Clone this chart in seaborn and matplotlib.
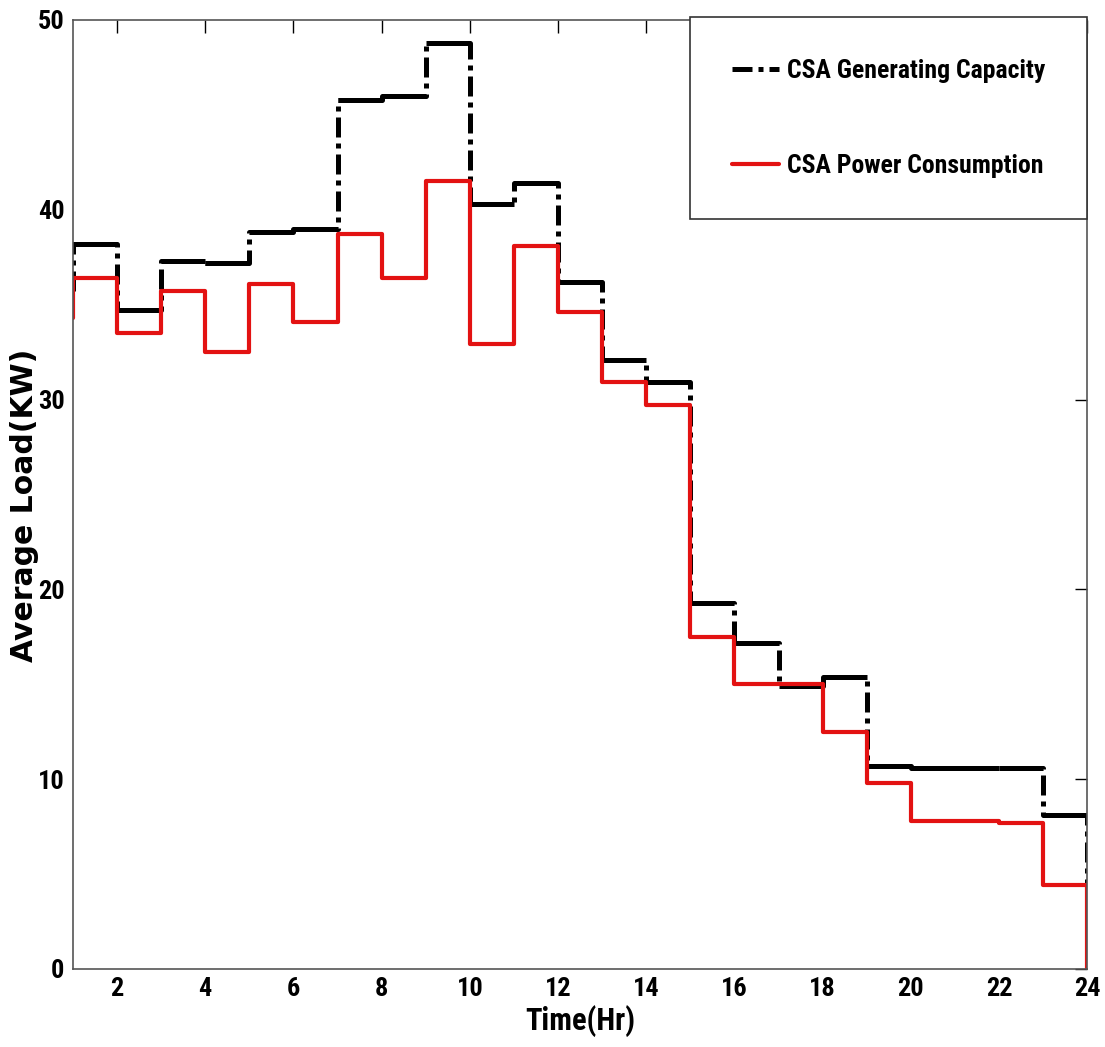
import os
import numpy as np
import pandas as pd
import matplotlib
matplotlib.use('Agg')
import matplotlib.pyplot as plt
from matplotlib import font_manager
from matplotlib.font_manager import FontProperties
import seaborn as sns

# hourly values (step starts at each hour, last value is the end at 24)
hours = list(range(1, 25))
capacity = [38.2, 34.7, 37.3, 37.2, 38.8, 39.0, 45.8, 46.0, 48.8, 40.3, 41.4, 36.2,
            32.1, 30.9, 19.3, 17.2, 14.9, 15.4, 10.7, 10.6, 10.6, 10.6, 8.1, 4.1]
consumption = [36.4, 33.5, 35.7, 32.5, 36.1, 34.1, 38.7, 36.4, 41.5, 32.9, 38.1, 34.6,
               30.9, 29.7, 17.5, 15.0, 15.0, 12.5, 9.8, 7.8, 7.8, 7.7, 4.4, 0.0]
capacity_start = 35.7
consumption_start = 34.3
xticks = list(range(2, 25, 2))
yticks = [0, 10, 20, 30, 40, 50]

cap_df = pd.DataFrame({'hour': [hours[0]] + hours, 'load': [capacity_start] + capacity})
con_df = pd.DataFrame({'hour': [hours[0]] + hours, 'load': [consumption_start] + consumption})


def narrow_bold(size):
    # look for an installed condensed bold face, else plain bold sans
    files = {os.path.basename(f.fname): f.fname for f in font_manager.fontManager.ttflist}
    for name in ['LiberationSansNarrow-Bold.ttf', 'NotoSans-CondensedBold.ttf',
                 'RobotoCondensed-Bold.ttf', 'OpenSans_Condensed-Bold.ttf',
                 'OpenSans-CondBold.ttf', 'DejaVuSansCondensed-Bold.ttf']:
        if name in files:
            return FontProperties(fname=files[name], size=size)
    return FontProperties(family='Liberation Sans', weight='bold', size=size, stretch='condensed')


sns.set_style('white')
plt.rcParams['font.family'] = ['Liberation Sans', 'DejaVu Sans']
plt.rcParams['text.color'] = 'black'
plt.rcParams['axes.labelcolor'] = 'black'

fig = plt.figure(figsize=(11.05, 10.47), dpi=100)
ax = fig.add_axes([0.066, 0.0745, 0.918, 0.9065])

# generating capacity: dash-dot steps, with the flat parts drawn solid as in the original
sns.lineplot(data=cap_df, x='hour', y='load', drawstyle='steps-post', estimator=None,
             sort=False, color='black', lw=3.6, dashes=False, ax=ax,
             label='CSA Generating Capacity')
ax.lines[-1].set_dashes([4, 1.2, 1, 1.2])
ax.hlines(capacity[:-1], hours[:-1], hours[1:], color='black', lw=3.6)

# power consumption: solid red steps
sns.lineplot(data=con_df, x='hour', y='load', drawstyle='steps-post', estimator=None,
             sort=False, color='#e31212', lw=3.0, ax=ax,
             label='CSA Power Consumption')

ax.set_xlim(1, 24)
ax.set_ylim(0, 50)
ax.set_xticks(xticks)
ax.set_yticks(yticks)
ax.tick_params(direction='in', length=9, width=1, top=True, right=True,
               pad=6, colors='black')
tick_fp = narrow_bold(19)
for lab in ax.get_xticklabels() + ax.get_yticklabels():
    lab.set_fontproperties(tick_fp)
for sp in ax.spines.values():
    sp.set_color('#555555')
    sp.set_linewidth(1.2)

ax.set_xlabel('Time(Hr)', fontproperties=narrow_bold(22), labelpad=3)
ax.set_ylabel('Average Load(KW)', fontsize=21.5, fontweight='bold',
              family=['DejaVu Sans'])
ax.yaxis.set_label_coords(-0.033, 0.489)

leg = ax.legend(loc='upper right', bbox_to_anchor=(1.0, 1.003), borderaxespad=0,
                fancybox=False, framealpha=1, edgecolor='#333333',
                prop=narrow_bold(18.5), handlelength=1.85,
                handletextpad=0.3, labelspacing=2.75, borderpad=1.63)
leg.get_frame().set_linewidth(1.2)

plt.savefig('out.png', dpi=100)
